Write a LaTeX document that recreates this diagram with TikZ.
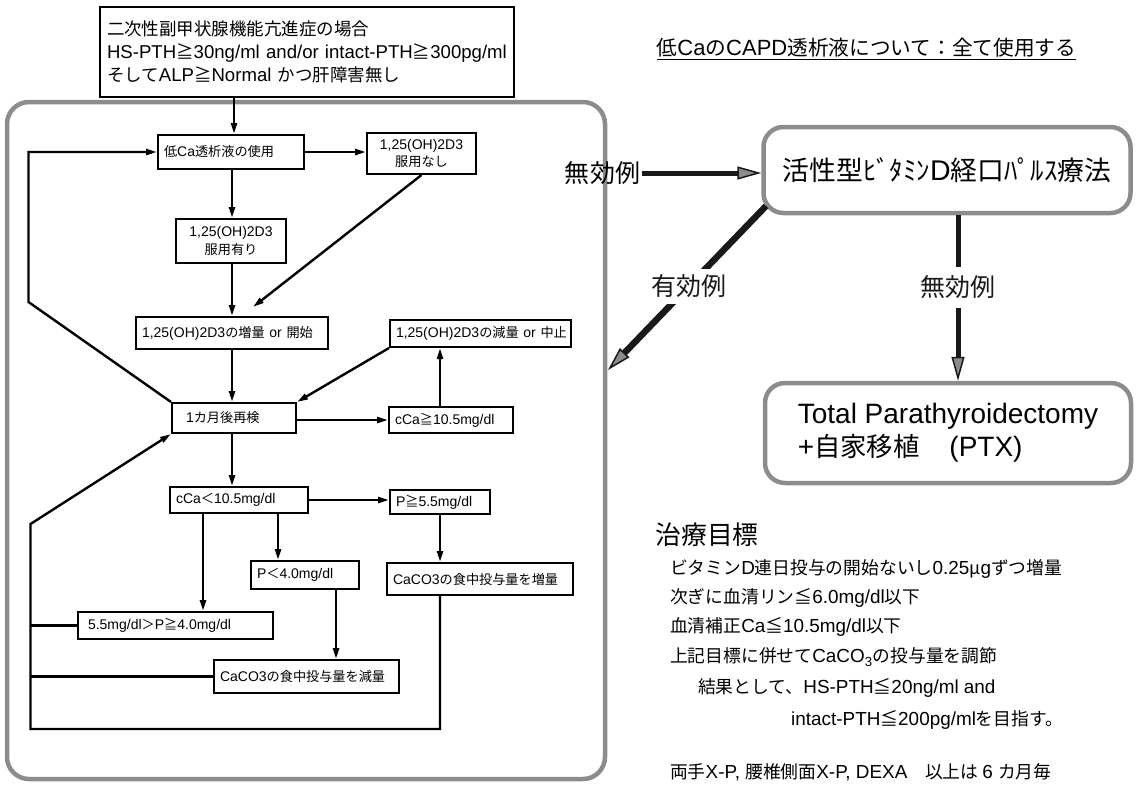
\documentclass[tikz,border=0pt]{standalone}
\usepackage{fontspec}
\setmainfont{Liberation Sans}
\newfontfamily\cjkfont[Scale=0.94]{Noto Sans CJK JP}
\XeTeXinterchartokenstate=1
\newXeTeXintercharclass\CJKcls
\newcount\cjkc
\cjkc="3000
\loop \XeTeXcharclass\cjkc=\CJKcls \ifnum\cjkc<"9FFF \advance\cjkc by 1 \repeat
\cjkc="FF00
\loop \XeTeXcharclass\cjkc=\CJKcls \ifnum\cjkc<"FFEF \advance\cjkc by 1 \repeat
\XeTeXcharclass"2266=\CJKcls
\XeTeXcharclass"2267=\CJKcls
\XeTeXcharclass"03BC=\CJKcls
\XeTeXinterchartoks 0 \CJKcls = {\cjkfont}
\XeTeXinterchartoks 4095 \CJKcls = {\cjkfont}
\XeTeXinterchartoks \CJKcls 0 = {\rmfamily}
\XeTeXinterchartoks 4095 0 = {\rmfamily}
\usetikzlibrary{arrows.meta}
\newcommand\fsflow{\fontsize{14}{17.5}\selectfont}
\newcommand\fstop{\fontsize{18.6}{23}\selectfont}
\newcommand\fslbl{\fontsize{26.6}{29}\selectfont}
\newcommand\fsvit{\fontsize{28.5}{31}\selectfont}
\newcommand\fsptx{\fontsize{28}{33}\selectfont}
\newcommand\fstitle{\fontsize{22}{25}\selectfont}
\newcommand\fsgoal{\fontsize{18.9}{22}\selectfont}
\newcommand\fshead{\fontsize{27.4}{30}\selectfont}
\begin{document}
\begin{tikzpicture}[x=1pt,y=-1pt,
  fbox/.style={draw, line width=2pt, inner xsep=6pt, inner ysep=0pt, font=\fsflow, align=left},
  rbox/.style={draw=black!45, line width=4.5pt, rounded corners=20pt, inner sep=0pt},
  farr/.style={line width=2.4pt, -{Triangle[length=11pt,width=6pt,fill=black!60]}},
  fline/.style={line width=2.4pt},
  barr/.style={line width=5pt, black!90, -{Triangle[length=24pt,width=13pt,line width=1.5pt,fill=black!45]}},
  lbl/.style={font=\fslbl, fill=white, inner sep=6pt},
  txt/.style={anchor=west, inner sep=0pt}]
\useasboundingbox (0,0) rectangle (1136,785);

% big rounded frame
\draw[draw=black!45, line width=4.5pt, rounded corners=22pt] (7,102) rectangle (605,779);

% top box
\node[fbox, font=\fstop, inner xsep=7pt, text width=400pt, minimum height=90pt] (top) at (307,52)
  {二次性副甲状腺機能亢進症の場合\\HS-PTH≧30ng/ml and/or intact-PTH≧300pg/ml\\そしてALP≧Normal かつ肝障害無し};

% flowchart boxes
\node[fbox, text width=134pt, minimum height=34pt] (lowca) at (231,152) {低Ca透析液の使用};
\node[fbox, align=center, text width=97pt, minimum height=41pt] (nashi) at (421.5,153.5) {1,25(OH)2D3\\服用なし};
\node[fbox, align=center, text width=98pt, minimum height=44pt] (ari) at (231,241) {1,25(OH)2D3\\服用有り};
\node[fbox, text width=180pt, minimum height=32pt] (zoryo) at (232,333) {1,25(OH)2D3の増量~or~開始};
\node[fbox, text width=169pt, minimum height=27pt] (genryo) at (480.5,333.5) {\mbox{1,25(OH)2D3の減量~or~中止}};
\node[fbox, text width=112pt, minimum height=30pt] (saiken) at (234,418) {\hspace*{8pt}1カ月後再検};
\node[fbox, text width=112pt, minimum height=26pt] (ge105) at (451,420) {cCa≧10.5mg/dl};
\node[fbox, text width=126pt, minimum height=26pt] (lt105) at (239,500) {cCa＜10.5mg/dl};
\node[fbox, text width=88pt, minimum height=24pt] (pge55) at (440,502) {P≧5.5mg/dl};
\node[fbox, text width=96pt, minimum height=28pt] (plt40) at (305,575) {P＜4.0mg/dl};
\node[fbox, text width=174pt, minimum height=32pt] (zoryoCa) at (480,579) {CaCO3の食中投与量を増量};
\node[fbox, text width=183pt, minimum height=27pt] (mid) at (175.5,625.5) {\hspace*{4pt}5.5mg/dl＞P≧4.0mg/dl};
\node[fbox, text width=173pt, minimum height=33pt] (genCa) at (306.5,676.5) {CaCO3の食中投与量を減量};

% helper coordinates
\coordinate (xa) at (234,0);
\coordinate (xm) at (232,0);
\coordinate (xg) at (440,0);
\coordinate (xp) at (278,0);
\coordinate (xq) at (203,0);
\coordinate (xr) at (336,0);
\coordinate (dz) at (253,307);
\coordinate (fk1) at (28.5,302);
\coordinate (lk) at (30.5,524);
\coordinate (bl) at (30.5,729);
\coordinate (br) at (440,729);

% flowchart connectors
\draw[farr] (top.south -| xa) -- (lowca.north -| xa);
\draw[farr] (lowca.east) -- (nashi.west |- lowca.east);
\draw[farr] (lowca.south -| xm) -- (ari.north -| xm);
\draw[farr] (ari.south -| xm) -- (zoryo.north -| xm);
\draw[farr] (nashi.south) -- (dz);
\draw[farr] (zoryo.south -| xm) -- (saiken.north -| xm);
\draw[farr] (saiken.north west) -- (fk1) -- (fk1 |- lowca.west) -- (lowca.west);
\draw[farr] (saiken.east |- ge105.west) -- (ge105.west);
\draw[farr] (ge105.north -| xg) -- (genryo.south -| xg);
\draw[farr] (genryo.south west) -- (saiken.north east);
\draw[farr] (saiken.south -| xm) -- (lt105.north -| xm);
\draw[farr] (lt105.east) -- (pge55.west |- lt105.east);
\draw[farr] (lt105.south -| xp) -- (plt40.north -| xp);
\draw[farr] (lt105.south -| xq) -- (mid.north -| xq);
\draw[farr] (pge55.south -| xg) -- (zoryoCa.north -| xg);
\draw[farr] (plt40.south -| xr) -- (genCa.north -| xr);
\draw[farr] (zoryoCa.south -| xg) -- (br) -- (bl) -- (lk) -- (saiken.south west);
\draw[fline] (mid.west) -- (lk |- mid.west);
\draw[fline] (genCa.west) -- (lk |- genCa.west);

% right side
\node[font=\fstitle, inner sep=0pt] (title) at (866.5,48) {低CaのCAPD透析液について：全て使用する};
\draw[line width=1pt] ([yshift=-2pt]title.south west) -- ([yshift=-2pt]title.south east);

\node[rbox, minimum width=367pt, minimum height=86pt, font=\fsvit] (vitd) at (947,170) {活性型ﾋﾞﾀﾐﾝD経口ﾊﾟﾙｽ療法};
\node[rbox, minimum width=366pt, minimum height=100pt, align=left, font=\fsptx] (ptx) at (948,433)
  {Total Parathyroidectomy\\+自家移植\hspace{30pt}(PTX)};

\node[font=\fslbl, inner sep=2pt] (muko1) at (602.5,173) {無効例};
\draw[barr] (muko1.east) -- (vitd.west |- muko1.east);

\coordinate (ys) at (766,206);
\coordinate (ye) at (608,370);
\draw[barr, line width=6.5pt] (ys) -- node[lbl, pos=0.49] (yuko) {有効例} (ye);

\coordinate (mx) at (958,0);
\draw[barr] (vitd.south -| mx) -- node[lbl, pos=0.435, inner ysep=9pt] (muko2) {無効例} (ptx.north -| mx);

\node[txt, font=\fshead] (goal) at (655.5,535) {治療目標};
\node[txt, font=\fsgoal] (g1) at (670,569) {ビタミンD連日投与の開始ないし0.25μgずつ増量};
\node[txt, font=\fsgoal] (g2) at (670,598) {次ぎに血清リン≦6.0mg/dl以下};
\node[txt, font=\fsgoal] (g3) at (670,627) {血清補正Ca≦10.5mg/dl以下};
\node[txt, font=\fsgoal] (g4) at (670,657) {上記目標に併せてCaCO\textsubscript{3}の投与量を調節};
\node[txt, font=\fsgoal] (g5) at (698,688) {結果として、HS-PTH≦20ng/ml and};
\node[txt, font=\fsgoal] (g6) at (791,720) {intact-PTH≦200pg/mlを目指す。};
\node[txt, font=\fsgoal] (g7) at (670,772) {両手X-P, 腰椎側面X-P, DEXA　以上は 6 カ月毎};
\end{tikzpicture}
\end{document}
